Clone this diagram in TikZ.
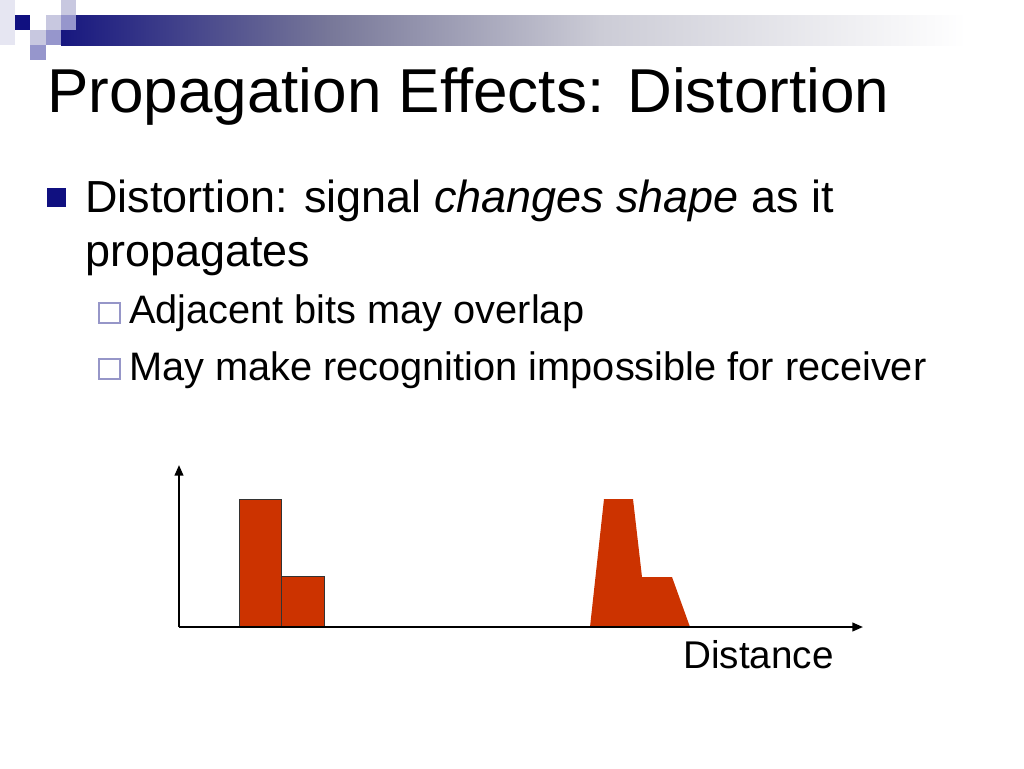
\documentclass[tikz,border=0pt]{standalone}
\usepackage{fontspec}
\setmainfont{Liberation Sans}
\usepackage{xcolor}
\usetikzlibrary{arrows.meta}
\definecolor{navy}{RGB}{16,16,128}
\definecolor{lilac}{RGB}{200,200,224}
\definecolor{midlilac}{RGB}{150,150,204}
\definecolor{faint}{RGB}{230,230,242}
\definecolor{pulse}{RGB}{204,51,0}
\definecolor{hollow}{RGB}{150,150,200}
\pgfdeclarehorizontalshading{headbar}{100bp}{%
  rgb(0bp)=(0.09,0.09,0.5);
  rgb(25bp)=(0.09,0.09,0.5);
  rgb(39bp)=(0.47,0.47,0.6);
  rgb(53bp)=(0.8,0.8,0.84);
  rgb(72bp)=(1,1,1);
  rgb(100bp)=(1,1,1)}
\tikzset{
  sq/.style={fill=#1, draw=none},
  txt/.style={anchor=base west, inner sep=0pt, text=black},
  axis/.style={line width=1.5pt, -{Triangle[length=8pt,width=6.5pt]}},
  bit/.style={draw=black!80, line width=0.6pt, fill=pulse}
}
\begin{document}
\begin{tikzpicture}[x=0.75pt, y=-0.75pt]
        \useasboundingbox (0,0) rectangle (1024,768);                 %
        \fill [white]              (0,0) rectangle (1024,768);        %
        \shade [shading=headbar]   (61,15) rectangle (1024,45);       %header bar
        \fill [faint]              (0,0) rectangle (15,45);           %
        \fill [sq=navy]            (15,15) rectangle (30,30);         %
        \fill [sq=lilac]           (46,15) rectangle (61,30);         %
        \fill [sq=lilac]           (61,0) rectangle (76,15);          %
        \fill [sq=midlilac]        (61,15) rectangle (76,30);         %
        \fill [sq=lilac]           (30,30) rectangle (46,45);         %
        \fill [sq=midlilac]        (46,30) rectangle (61,45);         %
        \fill [sq=midlilac]        (30,45) rectangle (46,60);         %
        \node [txt, font=\fontsize{46.5pt}{56pt}\selectfont] (title) at (47,112)
              {Propagation Effects: Distortion};                      %title
        \fill [navy]               (47,188) rectangle (66,207);       %bullet
        \node [txt, font=\fontsize{33.7pt}{40pt}\selectfont] (line1) at (85,212)
              {Distortion: signal \textit{changes shape} as it};      %
        \node [txt, font=\fontsize{33.7pt}{40pt}\selectfont] (line2) at (85,266)
              {propagates};                                           %
        \draw [hollow, line width=0.8pt] (99,303) rectangle (120,323); %sub bullets
        \node [txt, font=\fontsize{29.8pt}{34pt}\selectfont] (sub1) at (129,323)
              {Adjacent bits may overlap};                            %
        \draw [hollow, line width=0.8pt] (99,359) rectangle (120,379); %
        \node [txt, font=\fontsize{29.8pt}{34pt}\selectfont] (sub2) at (129,380)
              {May make recognition impossible for receiver};         %
        \coordinate (origin) at (179,627);                            %axes
        \coordinate (ytip)   at (179,465);                            %
        \coordinate (xtip)   at (863,627);                            %
        \draw [bit]  (239,627) rectangle (281,499);                   %sent bits
        \draw [bit]  (281,627) rectangle (324,576);                   %
        \fill [pulse] (590,627) -- (604,499) -- (633,499) -- (642,577)
                      -- (672,577) -- (690,627) -- cycle;             %received
        \draw [axis] (origin) -- (ytip);                              %
        \draw [axis] (origin) -- (xtip);                              %
        \node [txt, font=\fontsize{29pt}{34pt}\selectfont] (dist) at (683,668)
              {Distance};                                             %
\end{tikzpicture}
\end{document}
